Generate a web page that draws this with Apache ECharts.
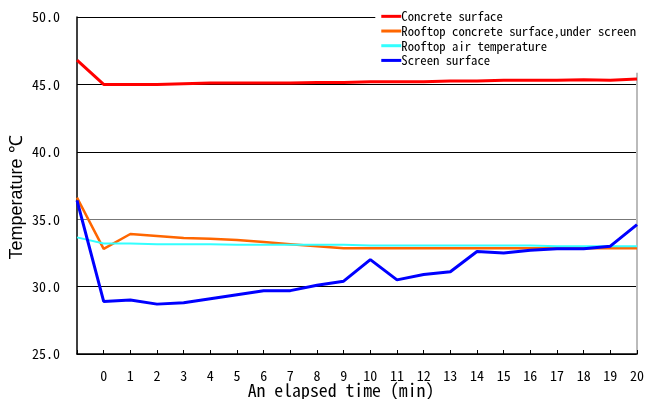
<!DOCTYPE html>
<html><head><meta charset="utf-8">
<script src="https://cdn.jsdelivr.net/npm/echarts@6/dist/echarts.min.js"></script>
<style>html,body{margin:0;padding:0;background:#fff}#c{width:646px;height:399px}</style>
</head><body><div id="c"></div>
<script>
const categories = ['', '0','1','2','3','4','5','6','7','8','9','10','11','12','13','14','15','16','17','18','19','20'];
const concreteSurface = [46.8, 45.0, 45.0, 45.0, 45.05, 45.1, 45.1, 45.1, 45.1, 45.15, 45.15, 45.2, 45.2, 45.2, 45.25, 45.25, 45.3, 45.3, 45.3, 45.35, 45.3, 45.4];
const rooftopConcreteUnderScreen = [36.6, 32.8, 33.9, 33.75, 33.6, 33.55, 33.45, 33.3, 33.15, 33.0, 32.85, 32.85, 32.85, 32.85, 32.85, 32.85, 32.85, 32.85, 32.85, 32.85, 32.85, 32.85];
const rooftopAirTemp = [33.65, 33.2, 33.2, 33.15, 33.15, 33.15, 33.1, 33.1, 33.1, 33.1, 33.1, 33.05, 33.05, 33.05, 33.05, 33.05, 33.05, 33.05, 33.0, 33.0, 33.0, 33.0];
const screenSurface = [36.4, 28.9, 29.0, 28.7, 28.8, 29.1, 29.4, 29.7, 29.7, 30.1, 30.4, 32.0, 30.5, 30.9, 31.1, 32.6, 32.5, 32.7, 32.8, 32.8, 33.0, 34.6];
const seriesNames = ['Concrete surface', 'Rooftop concrete surface,under screen', 'Rooftop air temperature', 'Screen surface'];
const yTicks = [25, 30, 35, 40, 45, 50];

const chart = echarts.init(document.getElementById('c'), null, {renderer: 'canvas'});
const MONO = '"Noto Sans Mono CJK JP", "DejaVu Sans Mono", monospace';
function mk(name, data, color, width, z) {
  return {name, type: 'line', data, symbol: 'none', z,
    lineStyle: {color, width}, itemStyle: {color}};
}
chart.setOption({
  animation: false,
  backgroundColor: '#fff',
  grid: {left: 77, right: 9, top: 17, bottom: 45, outerBoundsMode: 'none', containLabel: false},
  legend: {
    right: 8, top: 8, orient: 'vertical', itemGap: 2,
    itemWidth: 20, itemHeight: 3, icon: 'rect',
    backgroundColor: '#fff', padding: [2, 2, 6, 6],
    textStyle: {fontFamily: MONO, fontSize: 12.7, color: '#000', padding: [0, 0, 0, -5]},
    data: seriesNames
  },
  xAxis: {
    type: 'category', data: categories, boundaryGap: false,
    axisLine: {lineStyle: {color: '#000', width: 1.5}},
    axisTick: {inside: true, length: 4, lineStyle: {color: '#000'}},
    axisLabel: {fontFamily: MONO, fontSize: 14, color: '#000', margin: 15},
    name: 'An elapsed time (min)', nameLocation: 'middle', nameGap: 27, nameMoveOverlap: false,
    nameTextStyle: {fontFamily: MONO, fontSize: 17.8, color: '#000', padding: [0, 32, 0, 0]}
  },
  yAxis: [{
    type: 'value', min: yTicks[0], max: yTicks[yTicks.length - 1], interval: 5,
    axisLine: {show: true, lineStyle: {color: '#000', width: 1.5}},
    axisTick: {show: false},
    axisLabel: {fontFamily: MONO, fontSize: 14, color: '#000', margin: 17, formatter: v => v.toFixed(1)},
    splitLine: {lineStyle: {color: ['#000', '#000', '#777', '#000', '#000', '#000'], width: 1}},
    name: 'Temperature ℃', nameLocation: 'middle', nameGap: 51, nameMoveOverlap: false,
    nameTextStyle: {fontFamily: '"Liberation Sans", Arial, sans-serif', fontSize: 18, color: '#000', padding: [0, 24, 0, 0]}
  }, {
    type: 'value', position: 'right', min: 25, max: 50, interval: 5,
    axisLine: {show: true, lineStyle: {color: '#bbb', width: 2}},
    axisTick: {show: false}, axisLabel: {show: false}, splitLine: {show: false}
  }],
  series: [
    mk(seriesNames[0], concreteSurface, '#ff0000', 3, 3),
    mk(seriesNames[1], rooftopConcreteUnderScreen, '#ff6600', 2.5, 3),
    mk(seriesNames[2], rooftopAirTemp, '#33ffff', 2, 4),
    mk(seriesNames[3], screenSurface, '#0000ff', 3, 5)
  ]
});
</script></body></html>
